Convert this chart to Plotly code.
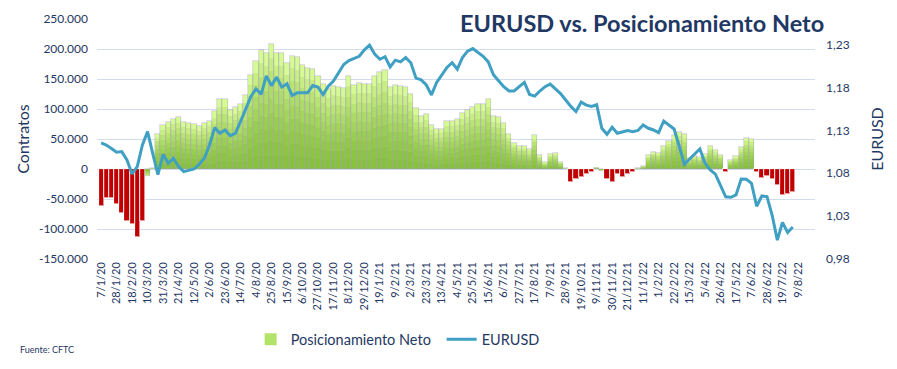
import pandas as pd
import plotly.graph_objects as go

# ---------------- data ----------------
START_DATE = "2020-01-07"          # first weekly observation (Tuesday)
N_LABEL_WEEKS = 136                # weeks covered by the category labels

NET_POSITION = [
    -61000, -48000, -48000, -59000, -74000, -86000, -91000, -114000, -86000, -12000,
    1000, 59000, 73000, 78000, 84000, 87000, 78000, 76000, 75000, 72000,
    76000, 80000, 96000, 117000, 117000, 99000, 104000, 109000, 123000, 157000,
    180000, 198000, 194000, 209000, 194000, 194000, 176000, 189000, 186000, 173000,
    169000, 166000, 155000, 141000, 133000, 138000, 137000, 135000, 155000, 140000,
    143000, 142000, 142000, 155000, 161000, 165000, 137000, 140000, 138000, 137000,
    125000, 101000, 89000, 91000, 73000, 67000, 67000, 80000, 80000, 83000,
    94000, 98000, 104000, 108000, 108000, 117000, 89000, 87000, 76000, 59000,
    44000, 38000, 38000, 33000, 57000, 23000, 11000, 25000, 26000, 12000,
    1000, -22000, -17000, -13000, -9000, -5500, 2500, -3000, -17000, -22000,
    -8000, -13000, -9000, -5500, 1000, 5000, 23000, 29000, 27000, 38000,
    47000, 57000, 62000, 58000, 18000, 22000, 20000, 25000, 38000, 31000,
    24000, -5000, 15000, 21000, 37000, 52000, 50000, -5000, -15000, -11000,
    -17000, -27000, -43000, -42000, -39000,
]

EURUSD = [
    1.1155, 1.1130, 1.1090, 1.1045, 1.1053, 1.0955, 1.0792, 1.0878, 1.1130, 1.1286,
    1.1030, 1.0785, 1.1021, 1.0916, 1.0975, 1.0878, 1.0819, 1.0839, 1.0850, 1.0905,
    1.0975, 1.1130, 1.1333, 1.1267, 1.1305, 1.1239, 1.1267, 1.1403, 1.1539, 1.1694,
    1.1784, 1.1722, 1.1936, 1.1823, 1.1922, 1.1805, 1.1844, 1.1708, 1.1739, 1.1739,
    1.1739, 1.1823, 1.1805, 1.1719, 1.1817, 1.1875, 1.1973, 1.2070, 1.2115, 1.2140,
    1.2165, 1.2240, 1.2295, 1.2190, 1.2130, 1.2160, 1.2040, 1.2120, 1.2100, 1.2150,
    1.2090, 1.1910, 1.1890, 1.1830, 1.1714, 1.1860, 1.1950, 1.2035, 1.2090, 1.2015,
    1.2150, 1.2225, 1.2255, 1.2210, 1.2165, 1.2100, 1.1950, 1.1880, 1.1810, 1.1760,
    1.1760, 1.1810, 1.1860, 1.1720, 1.1700, 1.1760, 1.1810, 1.1840, 1.1780, 1.1730,
    1.1655, 1.1580, 1.1520, 1.1630, 1.1595, 1.1580, 1.1600, 1.1325, 1.1255, 1.1337,
    1.1267, 1.1280, 1.1300, 1.1286, 1.1300, 1.1364, 1.1325, 1.1305, 1.1274, 1.1410,
    1.1364, 1.1317, 1.1115, 1.0905, 1.0967, 1.1025, 1.1085, 1.0916, 1.0840, 1.0790,
    1.0656, 1.0525, 1.0520, 1.0547, 1.0733, 1.0730, 1.0683, 1.0415, 1.0535, 1.0527,
    1.0310, 1.0020, 1.0228, 1.0110, 1.0173,
]

# weeks whose small negative reading is drawn in green in the original
GREEN_NEGATIVE_WEEKS = ["10/3/20", "16/11/21"]

LEFT_TICKS = [-150000, -100000, -50000, 0, 50000, 100000, 150000, 200000, 250000]
RIGHT_TICKS = [0.98, 1.03, 1.08, 1.13, 1.18, 1.23]

# ---------------- derived ----------------
dates = pd.date_range(START_DATE, periods=N_LABEL_WEEKS, freq="7D")
labels = [f"{d.day}/{d.month}/{d.strftime('%y')}" for d in dates]
n = len(NET_POSITION)
idx = list(range(n))
tick_idx = list(range(0, N_LABEL_WEEKS, 3))
tick_txt = [labels[i] for i in tick_idx]

NAVY = "#1f3864"
RED = "#c00000"
GREEN_TOP = "#d6fa94"
GREEN_LEG = "#b4e36a"
LINE_C = "#40a0c3"
FONT = "Lato"

is_red = [(v < 0 and labels[i] not in GREEN_NEGATIVE_WEEKS) for i, v in enumerate(NET_POSITION)]
base_colors = [RED if r else GREEN_TOP for r in is_red]
edge_colors = ["white" if r else "rgba(170,160,195,0.6)" for r in is_red]

fig = go.Figure()
fig.add_trace(go.Bar(
    x=idx, y=NET_POSITION, name="Posicionamiento Neto",
    marker=dict(color=base_colors, line=dict(width=0)),
    width=1.0, yaxis="y", showlegend=False,
))
# gradient: darker green towards the base of every green bar
N_LAYERS = 8
for k in range(1, N_LAYERS + 1):
    f = 1 - k / (N_LAYERS + 1)
    fig.add_trace(go.Bar(
        x=idx, y=[(v * f if not r else None) for v, r in zip(NET_POSITION, is_red)],
        marker=dict(color="rgba(105,172,28,0.15)", line=dict(width=0)),
        width=1.0, showlegend=False, hoverinfo="skip", yaxis="y",
    ))
# bar outlines
fig.add_trace(go.Bar(
    x=idx, y=NET_POSITION,
    marker=dict(color="rgba(0,0,0,0)", line=dict(color=edge_colors, width=0.7)),
    width=1.0, showlegend=False, hoverinfo="skip", yaxis="y",
))
# legend entry for the bar series (uniform green swatch)
fig.add_trace(go.Bar(
    x=[None], y=[None], name="Posicionamiento Neto",
    marker=dict(color=GREEN_LEG, line=dict(width=0)), yaxis="y", legendrank=1,
))
fig.add_trace(go.Scatter(
    x=idx, y=EURUSD, name="EURUSD", mode="lines", yaxis="y2",
    line=dict(color=LINE_C, width=3), legendrank=2,
))

fmt_left = [f"{v:,}".replace(",", ".") for v in LEFT_TICKS]
fmt_right = [f"{v:.2f}".replace(".", ",") for v in RIGHT_TICKS]

fig.update_layout(
    width=897, height=369,
    margin=dict(l=89, r=90, t=11, b=118, autoexpand=False),
    paper_bgcolor="white", plot_bgcolor="white",
    barmode="overlay", bargap=0,
    font=dict(family=FONT, color=NAVY),
    xaxis=dict(
        range=[-0.8, 138.3], tickmode="array", tickvals=tick_idx, ticktext=tick_txt,
        tickangle=-90, tickfont=dict(size=11, color=NAVY), showgrid=False,
        zeroline=False, showline=False, ticks="", ticklen=0, automargin=False,
    ),
    yaxis=dict(
        range=[-150000, 250000], tickmode="array", tickvals=LEFT_TICKS, ticktext=fmt_left,
        tickfont=dict(size=12, color=NAVY), showgrid=True, gridcolor="#d3dcea", gridwidth=1,
        zeroline=False, showline=False, ticks="", ticklabelstandoff=8, automargin=False,
        title=dict(text="Contratos", font=dict(size=16, color=NAVY), standoff=5),
    ),
    yaxis2=dict(
        range=[0.98, 1.26], overlaying="y", side="right", tickmode="array",
        tickvals=RIGHT_TICKS, ticktext=fmt_right, tickfont=dict(size=12, color=NAVY),
        showgrid=False, zeroline=False, showline=False, ticks="", ticklabelstandoff=10,
        automargin=False,
        title=dict(text="EURUSD", font=dict(size=16, color=NAVY), standoff=23),
    ),
    legend=dict(
        orientation="h", x=0.214, xanchor="left", y=-0.335, yanchor="middle",
        font=dict(size=14.5, color=NAVY), entrywidth=146, entrywidthmode="pixels",
        bgcolor="rgba(0,0,0,0)", traceorder="normal",
    ),
    showlegend=True,
)

fig.add_annotation(
    text="<b>EURUSD vs. Posicionamiento Neto</b>", xref="paper", yref="paper",
    x=1.014, y=1.0 + 11 / 240, xanchor="right", yanchor="top", showarrow=False,
    font=dict(size=23.5, color=NAVY, family=FONT), bgcolor="white", borderpad=0,
)
fig.add_annotation(
    text="Fuente: CFTC", xref="paper", yref="paper",
    x=-0.11, y=-0.375, xanchor="left", yanchor="middle", showarrow=False,
    font=dict(size=9, color=NAVY, family=FONT),
)

fig.write_html("out.html")
